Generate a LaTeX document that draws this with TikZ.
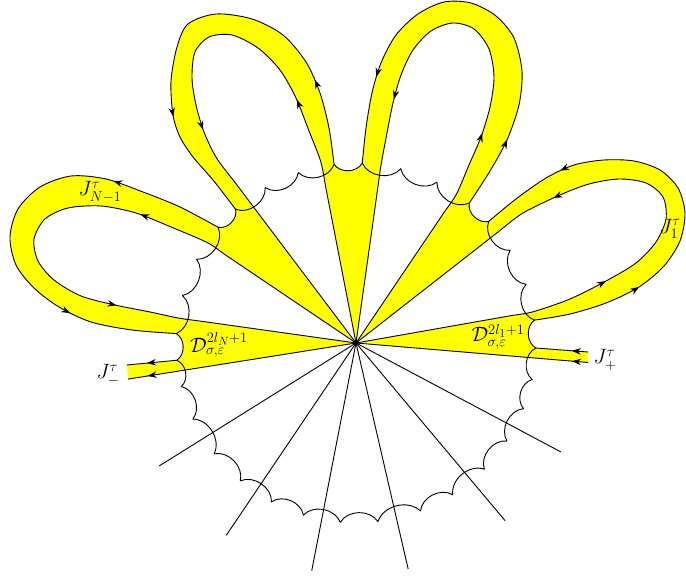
\documentclass[tikz,border=0pt]{standalone}
\usepackage{amsmath}
\usepackage{amssymb}
\usepackage{tikz}
\usetikzlibrary{arrows.meta,decorations.markings}
\definecolor{petal}{RGB}{255,255,0}
\tikzset{
  band/.style={fill=petal, even odd rule},
  flow/.style 2 args={postaction={decorate,decoration={markings,
      mark=at position #1 with {\arrow{Stealth[length=9pt,width=6.5pt]}},
      mark=at position #2 with {\arrow{Stealth[length=9pt,width=6.5pt]}}}}},
  flowone/.style={postaction={decorate,decoration={markings,
      mark=at position #1 with {\arrow{Stealth[length=9pt,width=6.5pt]}}}}},
}

\begin{document}
\begin{tikzpicture}[x=1pt, y=1pt, line width=0.9pt, line join=round,
  every node/.style={font=\huge}]
\useasboundingbox (-356,-234) rectangle (330,343);

%% Yellow wedges, cut off by the scalloped rim
\begin{scope}
  \clip (-1.6:180) foreach \a in {7.3,19,31,42.5,51,63.3,75.6,88,97,108.7,120.3,132,140,152.3,164.7,177,185.5,194,205,218,230,242,253,265,277,291,302.5,315.5,327,338.6,348.3}
    {to[bend left=58] (\a:180)} to[bend left=58] (-1.6:180) -- cycle;
  \fill[petal] (0,0) -- (-4.8:250) -- (10:250) -- cycle;
  \fill[petal] (0,0) -- (38:250) -- (56:250) -- cycle;
  \fill[petal] (0,0) -- (82:250) -- (101:250) -- cycle;
  \fill[petal] (0,0) -- (127:250) -- (146:250) -- cycle;
  \fill[petal] (0,0) -- (172:250) -- (189:250) -- cycle;
\end{scope}

%% Yellow bands of the loops
\fill[band] (0,0) -- plot[smooth] coordinates {(7.3:180) (214,29) (250,40) (283,56) (308,77) (324,102) (329,130) (322,155) (304,173) (278,182) (248,183) (218,178) (190,165) (160,144) (42.5:180)} -- cycle
  (0,0) -- plot[smooth] coordinates {(10:160) (10:180) (214,44) (250,62) (280,80) (300,101) (310,124) (307,146) (290,160) (263,164) (233,159) (204,148) (167,130) (38:180) (38:160)} -- cycle;
\fill[band] (0,0) -- plot[smooth] coordinates {(51:180) (134,172) (151,203) (163,238) (166,272) (158,305) (140,327) (115,340) (88,341) (62,329) (40,308) (25,280) (16,250) (10,215) (88:180)} -- cycle
  (0,0) -- plot[smooth] coordinates {(56:160) (56:180) (113,178) (125,206) (134,236) (138,266) (133,294) (118,314) (97,320) (75,312) (57,293) (45,268) (37,240) (31,210) (82:180) (82:160)} -- cycle;
\fill[band] (0,0) -- plot[smooth] coordinates {(97:180) (-27,215) (-36,250) (-50,281) (-73,308) (-104,324) (-140,329) (-168,319) (-179,296) (-185,262) (-183,228) (-176,206) (-163,186) (-143,163) (132:180)} -- cycle
  (0,0) -- plot[smooth] coordinates {(101:160) (101:185) (-47,212) (-60,245) (-76,273) (-98,295) (-124,308) (-147,306) (-161,291) (-164,265) (-160,238) (-152,211) (127:232) (127:200) (127:160)} -- cycle;
\fill[band] (0,0) -- plot[smooth] coordinates {(140:180) (-176,136) (-213,151) (-250,164) (-285,167) (-316,156) (-338,134) (-346,106) (-340,78) (-322,55) (-297,36) (-265,21) (-224,13) (177:180)} -- cycle
  (0,0) -- plot[smooth] coordinates {(146:160) (146:180) (-185,116) (-220,130) (-255,137) (-288,135) (-311,124) (-322,104) (-318,82) (-302,63) (-275,47) (-241,38) (-206,31) (172:180) (172:160)} -- cycle;
\fill[petal] (0,0) -- (-1.6:180) -- (232,-9) -- (232,-19.5) -- cycle;
\fill[petal] (0,0) -- (185.5:180) -- (-229,-22) -- (-228,-36.1) -- cycle;

%% Rays
\foreach \a in {212,236,259,283,310,332}
  \draw (0,0) -- (\a:232);
\foreach \a in {10,38,56,82,101,127,146,172}
  \draw (0,0) -- (\a:160);

%% Loop J_1
\draw[flow={0.249}{0.802}] plot[smooth] coordinates {(7.3:180) (214,29) (250,40) (283,56) (308,77) (324,102) (329,130) (322,155) (304,173) (278,182) (248,183) (218,178) (190,165) (160,144) (42.5:180)};
\draw[flow={0.239}{0.794}] plot[smooth] coordinates {(10:160) (10:180) (214,44) (250,62) (280,80) (300,101) (310,124) (307,146) (290,160) (263,164) (233,159) (204,148) (167,130) (38:180) (38:160)};

%% Loop on top right
\draw[flow={0.162}{0.808}] plot[smooth] coordinates {(51:180) (134,172) (151,203) (163,238) (166,272) (158,305) (140,327) (115,340) (88,341) (62,329) (40,308) (25,280) (16,250) (10,215) (88:180)};
\draw[flow={0.21}{0.788}] plot[smooth] coordinates {(56:160) (56:180) (113,178) (125,206) (134,236) (138,266) (133,294) (118,314) (97,320) (75,312) (57,293) (45,268) (37,240) (31,210) (82:180) (82:160)};

%% Loop on top left
\draw[flow={0.192}{0.751}] plot[smooth] coordinates {(97:180) (-27,215) (-36,250) (-50,281) (-73,308) (-104,324) (-140,329) (-168,319) (-179,296) (-185,262) (-183,228) (-176,206) (-163,186) (-143,163) (132:180)};
\draw[flow={0.221}{0.75}] plot[smooth] coordinates {(101:160) (101:185) (-47,212) (-60,245) (-76,273) (-98,295) (-124,308) (-147,306) (-161,291) (-164,265) (-160,238) (-152,211) (127:232) (127:200) (127:160)};

%% Loop J_{N-1}
\draw[flow={0.248}{0.765}] plot[smooth] coordinates {(140:180) (-176,136) (-213,151) (-250,164) (-285,167) (-316,156) (-338,134) (-346,106) (-340,78) (-322,55) (-297,36) (-265,21) (-224,13) (177:180)};
\draw[flow={0.223}{0.8}] plot[smooth] coordinates {(146:160) (146:180) (-185,116) (-220,130) (-255,137) (-288,135) (-311,124) (-322,104) (-318,82) (-302,63) (-275,47) (-241,38) (-206,31) (172:180) (172:160)};

%% Strips J_+ and J_-
\draw[flowone=0.31] (232,-9) -- (-1.6:180);
\draw[flowone=16pt] (232,-19.5) -- (0,0);
\draw[flowone=0.6] (185.5:180) -- (-229,-22);
\draw[flowone=211pt] (0,0) -- (-228,-36.1);

%% Scalloped rim
\draw (-1.6:180) foreach \a in {7.3,19,31,42.5,51,63.3,75.6,88,97,108.7,120.3,132,140,152.3,164.7,177,185.5,194,205,218,230,242,253,265,277,291,302.5,315.5,327,338.6,348.3}
  {to[bend left=58] (\a:180)} to[bend left=58] (-1.6:180);

%% Centre
\fill (0,0) circle (2.5);

%% Labels
\node (jnm) at (-256,151) {$J^{\tau}_{N-1}$};
\node (jone) at (314,114) {$J^{\tau}_{1}$};
\node (jminus) at (-248,-32) {$J^{\tau}_{-}$};
\node (jplus) at (249,-17) {$J^{\tau}_{+}$};
\node (dN) at (-137,-2) {$\mathcal{D}^{2l_N+1}_{\sigma,\varepsilon}$};
\node (done) at (142,6) {$\mathcal{D}^{2l_1+1}_{\sigma,\varepsilon}$};

\end{tikzpicture}
\end{document}
